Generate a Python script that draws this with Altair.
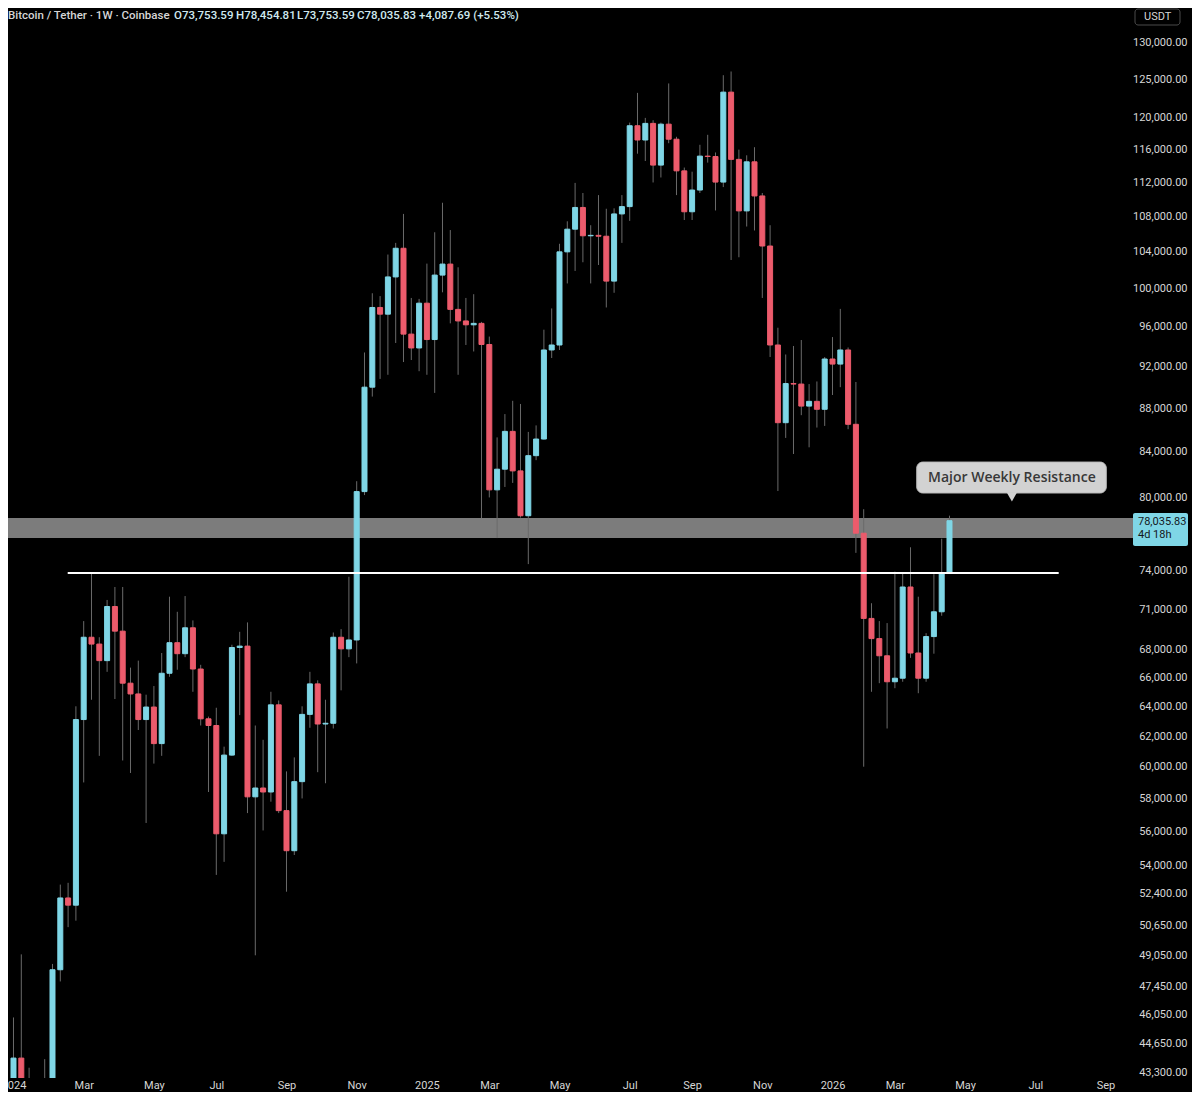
import altair as alt
import pandas as pd

# ---------------- data (weekly candles, BTC/USDT, from Jan 1 2024) ----------------
week_start = pd.date_range("2024-01-01", periods=121, freq="7D").strftime("%Y-%m-%d").tolist()

opens = [42280, 43950, 41750, 41600, 42000, 42600, 48300, 52150, 51750, 63100,
         68900, 68400, 67200, 71200, 69350, 65600, 64850, 63100, 63950, 61500,
         66300, 68500, 67700, 69600, 66600, 63150, 62700, 55850, 60750, 68150,
         68250, 58100, 58650, 58400, 64100, 57250, 54850, 59050, 63450, 65550,
         62800, 62850, 68900, 68050, 68700, 80500, 90000, 98000, 97300, 101250,
         104400, 95250, 93850, 98450, 94700, 101450, 102650, 97800, 96600, 96200,
         96350, 94200, 80650, 82450, 85850, 82300, 78450, 83650, 85150, 93650,
         94150, 104000, 106550, 109050, 105800, 105850, 105750, 100800, 108300, 109150,
         119000, 117200, 119300, 114100, 119200, 117300, 113400, 108550, 111100, 115200,
         115150, 112050, 123350, 114800, 108650, 114500, 110400, 104650, 94150, 86650,
         90350, 90300, 88200, 88650, 87900, 92750, 92250, 93650, 86500, 77000,
         70300, 68800, 67550, 65700, 65950, 72700, 67750, 65950, 68950, 70800,
         73753.59]
highs = [45900, 49100, 43500, 42800, 43900, 48600, 52900, 53000, 64000, 70100,
         73800, 68900, 71700, 72700, 72700, 66700, 67200, 64800, 65400, 67750,
         71950, 70800, 72000, 70150, 66900, 63300, 63900, 61300, 68350, 69300,
         70000, 62700, 61750, 65000, 64400, 59700, 60600, 64000, 66400, 65800,
         64450, 69250, 69500, 73500, 81400, 93400, 99500, 99200, 103700, 105000,
         108300, 99000, 98900, 102700, 106200, 109600, 106450, 102300, 99000, 99400,
         96500, 95000, 85300, 87450, 88700, 88400, 85800, 86400, 95700, 97900,
         104900, 107450, 111950, 110750, 107000, 110500, 108900, 108950, 110500, 119400,
         123250, 120000, 119700, 119400, 124500, 117600, 113800, 113300, 116600, 117850,
         115650, 125600, 126100, 116000, 115300, 116300, 110750, 107000, 95900, 93200,
         94050, 94650, 90300, 90550, 92950, 94950, 97850, 93900, 90500, 79000,
         71450, 70100, 69950, 73900, 73850, 75850, 71950, 69200, 73700, 76550,
         78454.81]
lows = [40750, 41500, 40600, 38500, 41800, 42500, 47700, 50550, 50900, 59000,
        64450, 60700, 66400, 64500, 60400, 59600, 62400, 56500, 60200, 60700,
        66050, 66550, 67450, 65000, 62700, 58400, 53450, 54200, 60700, 63400,
        57100, 49050, 56050, 57800, 57100, 52500, 54600, 58000, 62550, 59650,
        58950, 62500, 65100, 67450, 67000, 80200, 89100, 90800, 91200, 94350,
        92450, 92650, 91550, 91200, 89450, 99600, 96350, 91200, 94150, 93500,
        78250, 80000, 76600, 80900, 81250, 78300, 74500, 83250, 85100, 92850,
        93650, 100550, 101900, 102850, 100550, 102550, 98000, 99550, 105000, 107500,
        115500, 114600, 112000, 112600, 116800, 110500, 107600, 107600, 110750, 114400,
        108700, 111450, 103100, 103400, 106850, 106400, 99000, 92950, 80550, 85250,
        83800, 87350, 84400, 86200, 86350, 89250, 90000, 86050, 75400, 60000,
        65000, 65600, 62500, 65250, 65700, 67400, 64900, 65700, 67700, 70500,
        73753.59]
closes = [43950, 41750, 41600, 42000, 42600, 48300, 52150, 51750, 63100, 68900,
          68400, 67200, 71200, 69350, 65600, 64850, 63100, 63950, 61500, 66300,
          68500, 67700, 69600, 66600, 63150, 62700, 55850, 60750, 68150, 68250,
          58100, 58650, 58400, 64100, 57250, 54850, 59050, 63450, 65550, 62800,
          62850, 68900, 68050, 68700, 80500, 90000, 98000, 97300, 101250, 104400,
          95250, 93850, 98450, 94700, 101450, 102650, 97800, 96600, 96200, 96350,
          94200, 80650, 82450, 85850, 82300, 78450, 83650, 85150, 93650, 94150,
          104000, 106550, 109050, 105800, 105850, 105750, 100800, 108300, 109150, 119000,
          117200, 119300, 114100, 119200, 117300, 113400, 108550, 111100, 115200, 115150,
          112050, 123350, 114800, 108650, 114500, 110400, 104650, 94150, 86650, 90350,
          90300, 88200, 88650, 87900, 92750, 92250, 93650, 86500, 77000, 70300,
          68800, 67550, 65700, 65950, 72700, 67750, 65950, 68950, 70800, 73753.59,
          78035.83]

x_tick_index = [0, 9, 18, 26, 35, 44, 53, 61, 70, 79, 87, 96, 105, 113, 122, 131, 140]
x_tick_label = ["2024", "Mar", "May", "Jul", "Sep", "Nov", "2025", "Mar", "May",
                "Jul", "Sep", "Nov", "2026", "Mar", "May", "Jul", "Sep"]
y_tick_values = [130000, 125000, 120000, 116000, 112000, 108000, 104000, 100000,
                 96000, 92000, 88000, 84000, 80000, 74000, 71000, 68000, 66000,
                 64000, 62000, 60000, 58000, 56000, 54000, 52400, 50650, 49050,
                 47450, 46050, 44650, 43300]

# resistance zone / level / callout (data coordinates)
zone_top, zone_bottom = 78260, 76610
level_price, level_from, level_to = 73800, 6.95, 134.0
callout_from, callout_to = 115.8, 140.1
callout_top, callout_bottom = 83080, 80380
callout_center_x, callout_text_price, callout_tip_price = 128.0, 81720, 80050
callout_text = "Major Weekly Resistance"

header_parts = ["Bitcoin / Tether · 1W · Coinbase", "O73,753.59", "H78,454.81",
                "L73,753.59", "C78,035.83", "+4,087.69 (+5.53%)"]

# ---------------- styling ----------------
W, H = 1122, 1070
UP, DOWN = "#7fd6e6", "#ec5b6c"
WICK = "#6a6a6a"
TXT = "#d6d6d6"
VAL = "#cfe9ef"
FONT = "Roboto"

df = pd.DataFrame({"i": list(range(len(opens))), "date": week_start,
                   "open": opens, "high": highs, "low": lows, "close": closes})
df["dir"] = ["up" if c >= o else "down" for o, c in zip(opens, closes)]

xs = alt.Scale(domain=[-0.064, 142.5], nice=False, zero=False)
ys = alt.Scale(type="log", domain=[43025, 134950], nice=False, zero=False)

label_expr = ("[" + ",".join(f"'{l}'" for l in x_tick_label) + "][indexof(["
              + ",".join(str(v) for v in x_tick_index) + "], datum.value)]")

x_axis = alt.Axis(values=x_tick_index, labelExpr=label_expr, title=None, grid=False,
                  domain=False, ticks=False, labelPadding=1, labelFontSize=11,
                  labelColor=TXT, labelFont=FONT, labelFlush=False, labelOverlap=False)
y_axis = alt.Axis(orient="right", values=y_tick_values, labelExpr="format(datum.value, ',.2f')",
                  title=None, grid=False, domain=False, ticks=False, labelAlign="right",
                  labelPadding=57, labelFontSize=11, labelColor=TXT, labelFont=FONT,
                  labelFlush=False, labelOverlap=False, labelBaseline="middle")

color_scale = alt.Scale(domain=["up", "down"], range=[UP, DOWN])

band = alt.Chart(pd.DataFrame({"top": [zone_top], "bottom": [zone_bottom]})).mark_rect(
    color="#7c7c7c").encode(
    x=alt.value(0), x2=alt.value(W + 3),
    y=alt.Y("top:Q", scale=ys, axis=None), y2="bottom:Q")

wicks = alt.Chart(df).mark_rule(color=WICK, strokeWidth=1, clip=True).encode(
    x=alt.X("i:Q", scale=xs, axis=x_axis),
    y=alt.Y("low:Q", scale=ys, axis=y_axis), y2="high:Q")

bodies = alt.Chart(df).mark_bar(size=5, strokeWidth=1, clip=True).encode(
    x=alt.X("i:Q", scale=xs, axis=None),
    y=alt.Y("open:Q", scale=ys, axis=None), y2="close:Q",
    color=alt.Color("dir:N", scale=color_scale, legend=None),
    stroke=alt.Stroke("dir:N", scale=color_scale, legend=None))

level = alt.Chart(pd.DataFrame({"a": [level_from], "b": [level_to], "p": [level_price]})).mark_rule(
    color="#ffffff", strokeWidth=2).encode(
    x=alt.X("a:Q", scale=xs, axis=None), x2="b:Q",
    y=alt.Y("p:Q", scale=ys, axis=None))

callout_box = alt.Chart(pd.DataFrame({"a": [callout_from], "b": [callout_to],
                                      "t": [callout_top], "u": [callout_bottom]})).mark_rect(
    fill="#d2d2d2", stroke="#bcbcbc", strokeWidth=1, cornerRadius=6).encode(
    x=alt.X("a:Q", scale=xs, axis=None), x2="b:Q",
    y=alt.Y("t:Q", scale=ys, axis=None), y2="u:Q")

callout_tip = alt.Chart(pd.DataFrame({"x": [callout_center_x], "p": [callout_tip_price]})).mark_point(
    shape="triangle-down", filled=True, size=110, color="#d2d2d2", opacity=1).encode(
    x=alt.X("x:Q", scale=xs, axis=None), y=alt.Y("p:Q", scale=ys, axis=None))

callout_label = alt.Chart(pd.DataFrame({"x": [callout_center_x], "p": [callout_text_price],
                                        "t": [callout_text]})).mark_text(
    font="Open Sans", fontSize=14, fontWeight=600, color="#383838", align="center",
    baseline="middle").encode(
    x=alt.X("x:Q", scale=xs, axis=None), y=alt.Y("p:Q", scale=ys, axis=None), text="t:N")

# header (overlay text at top-left)
header_df = pd.DataFrame({"t": header_parts,
                          "px": [0, 166, 228, 289, 349, 411],
                          "c": [TXT, VAL, VAL, VAL, VAL, VAL]})
header = alt.Chart(header_df).mark_text(align="left", baseline="middle", fontSize=11.5,
                                        font=FONT, fontWeight=500).encode(
    x=alt.X("px:Q", scale=None, axis=None), y=alt.value(8),
    text="t:N", color=alt.Color("c:N", scale=None))

# last price tag on the price scale
tag_df = pd.DataFrame({"x1": [W + 3], "x2": [W + 58], "y1": [505], "y2": [538]})
tag_box = alt.Chart(tag_df).mark_rect(fill=UP, cornerRadius=2).encode(
    x=alt.X("x1:Q", scale=None, axis=None), x2="x2:Q",
    y=alt.Y("y1:Q", scale=None, axis=None), y2="y2:Q")
tag_text = alt.Chart(pd.DataFrame({"t": ["78,035.83", "4d 18h"], "px": [W + 8, W + 8],
                                   "py": [514, 527]})).mark_text(
    align="left", baseline="middle", fontSize=11, font=FONT, color="#131722").encode(
    x=alt.X("px:Q", scale=None, axis=None), y=alt.Y("py:Q", scale=None, axis=None), text="t:N")

usdt_box = alt.Chart(pd.DataFrame({"x1": [W + 5], "x2": [W + 50], "y1": [1], "y2": [17]})).mark_rect(
    fill="#000000", stroke="#4a4a4a", strokeWidth=1, cornerRadius=3).encode(
    x=alt.X("x1:Q", scale=None, axis=None), x2="x2:Q",
    y=alt.Y("y1:Q", scale=None, axis=None), y2="y2:Q")
usdt_text = alt.Chart(pd.DataFrame({"t": ["USDT"], "px": [W + 14], "py": [9]})).mark_text(
    align="left", baseline="middle", fontSize=11, font=FONT, color=TXT).encode(
    x=alt.X("px:Q", scale=None, axis=None), y=alt.Y("py:Q", scale=None, axis=None), text="t:N")

chart = alt.layer(
    band, wicks, bodies, level, callout_box, callout_tip, callout_label,
    header, tag_box, tag_text, usdt_box, usdt_text
).resolve_scale(color="independent").resolve_axis(
    x="independent", y="independent"
).properties(
    width=W, height=H,
    autosize=alt.AutoSizeParams(type="none"),
    padding={"left": 0, "top": 0, "right": 62, "bottom": 14},
).configure(background="#000000").configure_view(stroke=None)

chart.save("out.html", embed_options={"renderer": "svg", "actions": False})
